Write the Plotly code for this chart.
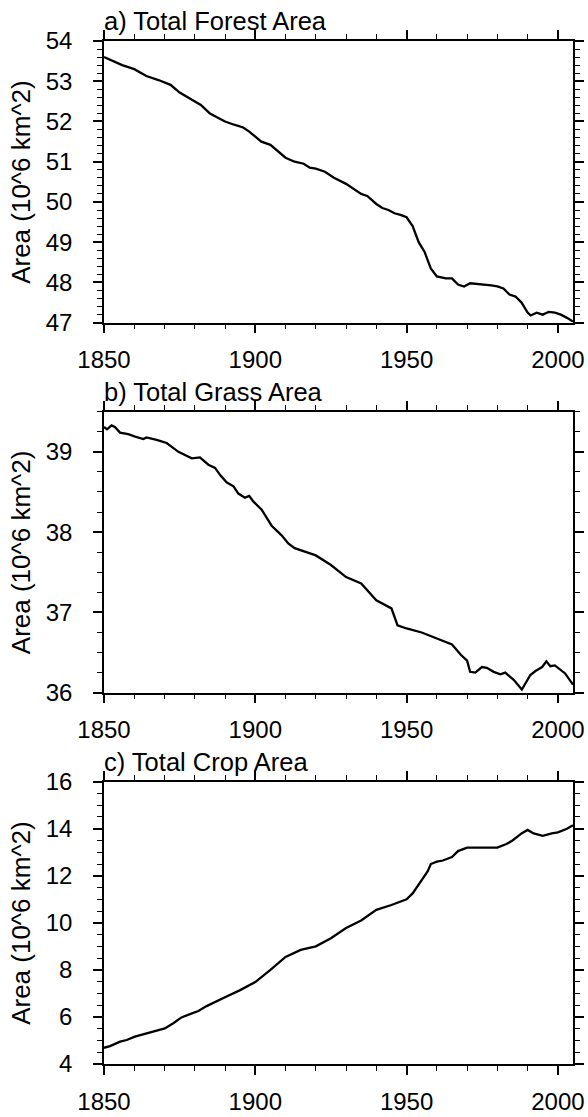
import plotly.graph_objects as go

# ---------------- data ----------------
forest_years = [1850, 1853, 1856, 1860, 1861, 1864, 1868, 1872, 1875, 1878, 1882, 1885, 1887,
                1890, 1893, 1896, 1898, 1900, 1902, 1905, 1908, 1910, 1913, 1916, 1918, 1920,
                1923, 1926, 1930, 1933, 1935, 1937, 1940, 1942, 1944, 1946, 1948, 1950, 1952,
                1954, 1956, 1958, 1960, 1963, 1965, 1967, 1969, 1971, 1975, 1978, 1980, 1982,
                1984, 1986, 1988, 1990, 1991, 1993, 1995, 1997, 1999, 2001, 2003, 2005]
forest_vals = [53.60, 53.49, 53.40, 53.30, 53.26, 53.13, 53.03, 52.91, 52.72, 52.59, 52.41, 52.20, 52.12,
               52.00, 51.92, 51.85, 51.75, 51.62, 51.50, 51.42, 51.22, 51.10, 51.00, 50.95, 50.85, 50.83,
               50.75, 50.60, 50.45, 50.30, 50.20, 50.15, 49.95, 49.85, 49.80, 49.72, 49.68, 49.62, 49.40,
               49.00, 48.75, 48.35, 48.15, 48.10, 48.10, 47.95, 47.90, 47.98, 47.96, 47.93, 47.90, 47.85,
               47.70, 47.65, 47.50, 47.25, 47.18, 47.25, 47.20, 47.27, 47.25, 47.20, 47.12, 47.03]

grass_years = [1850, 1851, 1852.5, 1853.6, 1855.3, 1858, 1860.3, 1863, 1864, 1867.4, 1870.7, 1872.3,
               1874.6, 1879, 1881.7, 1884.5, 1886.7, 1888.4, 1890.5, 1892.8, 1894.4, 1896.6, 1898,
               1899.4, 1902.1, 1905.4, 1908.7, 1910.9, 1913, 1920, 1925, 1930, 1935, 1940, 1945,
               1947, 1950, 1955, 1960, 1965, 1968, 1970, 1971, 1972.7, 1974.9, 1976.5, 1978.8, 1981,
               1982.6, 1985.4, 1988.1, 1990.9, 1992.6, 1994.8, 1996.2, 1997.5, 1999, 2000.8, 2002.4, 2005]
grass_vals = [39.31, 39.28, 39.33, 39.31, 39.24, 39.22, 39.19, 39.16, 39.18, 39.15, 39.11, 39.06,
              39.00, 38.92, 38.93, 38.84, 38.80, 38.71, 38.62, 38.57, 38.48, 38.43, 38.45,
              38.38, 38.28, 38.08, 37.96, 37.86, 37.80, 37.71, 37.59, 37.44, 37.36, 37.15, 37.05,
              36.84, 36.80, 36.75, 36.68, 36.60, 36.47, 36.40, 36.26, 36.25, 36.32, 36.31, 36.26, 36.23,
              36.25, 36.16, 36.04, 36.22, 36.27, 36.32, 36.39, 36.33, 36.34, 36.29, 36.24, 36.10]

crop_years = [1850, 1852, 1855.3, 1857.5, 1860.2, 1863, 1866.8, 1870.1, 1872.9, 1875.6, 1878.4,
              1881.2, 1883.9, 1887.2, 1890, 1895, 1900, 1905, 1910, 1915, 1920, 1925, 1930, 1935,
              1940, 1945, 1950, 1952, 1955, 1957, 1958, 1960, 1962, 1965, 1967, 1970, 1975, 1980,
              1983, 1985, 1988, 1990, 1992, 1995, 1998, 2000, 2003, 2005]
crop_vals = [4.69, 4.76, 4.95, 5.02, 5.16, 5.26, 5.37, 5.51, 5.73, 5.98, 6.12,
             6.25, 6.46, 6.65, 6.84, 7.14, 7.48, 8.00, 8.55, 8.85, 9.00, 9.35, 9.78, 10.10,
             10.55, 10.76, 11.00, 11.25, 11.80, 12.20, 12.50, 12.60, 12.65, 12.80, 13.05, 13.20, 13.20, 13.20,
             13.35, 13.50, 13.80, 13.95, 13.80, 13.70, 13.80, 13.85, 14.00, 14.15]

panel_titles = ["a) Total Forest Area", "b) Total Grass Area", "c) Total Crop Area"]
ytitle = "Area (10^6 km^2)"
x_ticks = [1850, 1900, 1950, 2000]
y_ranges = [[47, 54], [36, 39.5], [4, 16]]
y_dticks = [1, 1, 2]
y_minor = [0.2, 0.25, 0.5]

# ---------------- layout geometry (pixels) ----------------
W, H = 588, 1117
x_left, x_right = 104, 573
panel_px = [(41, 322.7), (411.7, 692.7), (781.7, 1064)]
FONT = "Liberation Sans, Arial, Helvetica, sans-serif"

fig = go.Figure()
series = [(forest_years, forest_vals), (grass_years, grass_vals), (crop_years, crop_vals)]
for i, (xs, ys) in enumerate(series):
    sfx = "" if i == 0 else str(i + 1)
    fig.add_trace(go.Scatter(x=xs, y=ys, mode="lines", line=dict(color="black", width=2.3),
                             xaxis="x" + sfx, yaxis="y" + sfx, showlegend=False, hoverinfo="skip"))

layout = dict(width=W, height=H, margin=dict(l=0, r=0, t=0, b=0, autoexpand=False),
              paper_bgcolor="white", plot_bgcolor="white", showlegend=False,
              font=dict(family=FONT, color="black"))
annotations = []
for i in range(3):
    sfx = "" if i == 0 else str(i + 1)
    top, bot = panel_px[i]
    ydom = [1 - bot / H, 1 - top / H]
    common = dict(showline=True, linecolor="black", linewidth=1.5, mirror="allticks",
                  ticks="outside", ticklen=9, tickwidth=1.5, tickcolor="black",
                  showgrid=False, zeroline=False, automargin=False,
                  tickfont=dict(family=FONT, size=24, color="black"))
    layout["xaxis" + sfx] = dict(common, domain=[x_left / W, x_right / W], range=[1850, 2005],
                                 tickmode="array", tickvals=x_ticks, ticklabelstandoff=6,
                                 minor=dict(ticks="outside", ticklen=5, tickwidth=1.2, tickcolor="black", dtick=10,
                                            tick0=1850, showgrid=False),
                                 anchor="y" + sfx)
    layout["yaxis" + sfx] = dict(common, domain=ydom, range=y_ranges[i], dtick=y_dticks[i], tick0=y_ranges[i][0],
                                 ticklabelstandoff=16,
                                 minor=dict(ticks="outside", ticklen=5, tickwidth=1.2, tickcolor="black",
                                            dtick=y_minor[i], tick0=y_ranges[i][0], showgrid=False),
                                 anchor="x" + sfx)
    annotations.append(dict(text=panel_titles[i], xref="paper", yref="paper", borderpad=0,
                            x=(x_left - 1) / W, y=1 - (top - 5) / H, xanchor="left", yanchor="bottom",
                            showarrow=False, font=dict(family=FONT, size=25.5, color="black")))
    annotations.append(dict(text=ytitle, xref="paper", yref="paper", textangle=-90, borderpad=0,
                            x=21 / W, y=1 - ((top + bot) / 2) / H, xanchor="center", yanchor="middle",
                            showarrow=False, font=dict(family=FONT, size=26, color="black")))
layout["annotations"] = annotations
fig.update_layout(**layout)
fig.write_html("out.html", config={"displayModeBar": False},
               post_script="document.body.style.margin='0';document.body.style.padding='0';")
